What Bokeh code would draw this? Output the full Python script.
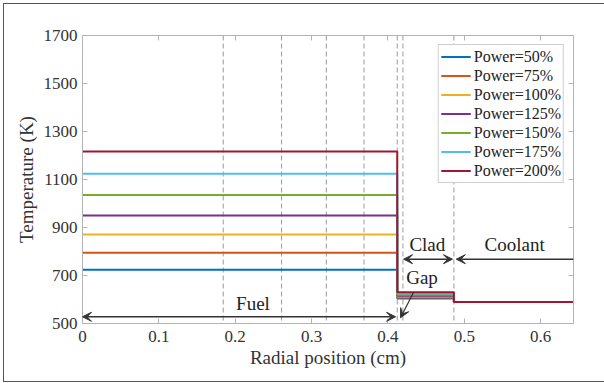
from bokeh.plotting import figure
from bokeh.models import (Range1d, LinearAxis, FixedTicker, Span, Arrow, VeeHead, Label,
                          InlineStyleSheet)
from bokeh.embed import file_html
from bokeh.resources import INLINE

# ---- data ----
labels = ["Power=50%", "Power=75%", "Power=100%", "Power=125%",
          "Power=150%", "Power=175%", "Power=200%"]
colors = ["#0072BD", "#D95319", "#EDB120", "#7E2F8E", "#77AC30", "#4DBEEE", "#A2142F"]
fuel_T = [724, 795, 871, 950, 1035, 1124, 1217]
clad_T = [604, 608, 612, 616, 620, 625, 630]
cool_T = [590, 590, 590, 590, 590, 590, 590]
r_fuel = 0.4122
r_clad = 0.4864
r_end = 0.643
ring_bounds = [0.1843, 0.2607, 0.3193, 0.3686, 0.4122, 0.4196, 0.4864]
x_ticks = [0, 0.1, 0.2, 0.3, 0.4, 0.5, 0.6]
y_ticks = [500, 700, 900, 1100, 1300, 1500, 1700]

# annotation texts and arrows
region_text = ["Fuel", "Clad", "Coolant", "Gap"]
region_x = [0.2233, 0.4516, 0.566, 0.4446]
region_y = [582, 830, 830, 692]
fuel_arrow = (0.0, 0.410, 528)
clad_arrow = (0.4205, 0.4845, 768)
cool_arrow = (0.643, 0.4895, 768)
gap_arrow = (0.4334, 629, 0.4165, 524)

FONT = "Liberation Serif"
AX = "#b3b3b3"
TXT = "#333333"

p = figure(frame_width=491, frame_height=288, min_border_left=82, min_border_right=31,
           min_border_top=35, min_border_bottom=60, output_backend="svg",
           toolbar_location=None, x_range=Range1d(0, r_end), y_range=Range1d(500, 1700))
p.grid.visible = False
p.background_fill_color = "white"
p.border_fill_color = "white"
p.outline_line_color = AX
p.outline_line_width = 1
p.stylesheets = [InlineStyleSheet(css="""
:host { position: relative; }
:host::after { content: ""; position: absolute; top: 3px; left: 2.5px; right: -3px;
  bottom: 1.5px; border: 1.5px solid #555555; pointer-events: none; z-index: 100; }
""")]

for ax in (p.xaxis[0], p.yaxis[0]):
    ax.axis_line_color = AX
    ax.major_tick_line_color = AX
    ax.major_tick_in = 5
    ax.major_tick_out = 0
    ax.minor_tick_line_color = None
    ax.major_label_text_font = FONT
    ax.major_label_text_font_size = "17px"
    ax.major_label_text_color = TXT
    ax.axis_label_text_font = FONT
    ax.axis_label_text_font_size = "19px"
    ax.axis_label_text_font_style = "normal"
    ax.axis_label_text_color = TXT

p.xaxis.ticker = FixedTicker(ticks=x_ticks)
p.yaxis.ticker = FixedTicker(ticks=y_ticks)
p.xaxis.axis_label = "Radial position (cm)"
p.yaxis.axis_label = "Temperature (K)"
p.xaxis.major_label_standoff = 7
p.yaxis.major_label_standoff = 5
p.xaxis.axis_label_standoff = 2
p.yaxis.axis_label_standoff = 4

# mirrored axes (tick marks only, drawn as unlabeled minor ticks)
for side, tk in (("above", x_ticks), ("right", y_ticks)):
    a = LinearAxis(ticker=FixedTicker(ticks=[], minor_ticks=tk),
                   axis_line_color=AX, major_tick_line_color=None,
                   minor_tick_line_color=AX, minor_tick_in=5, minor_tick_out=0)
    p.add_layout(a, side)

# dashed region boundaries
for b in ring_bounds:
    p.add_layout(Span(location=b, dimension="height", line_color="#9a9a9a",
                      line_dash="5 3", line_width=1, level="underlay"))

# temperature profiles
for lab, c, tf, tc, tw in zip(labels, colors, fuel_T, clad_T, cool_T):
    xs = [0, r_fuel, r_fuel, r_clad, r_clad, r_end]
    ys = [tf, tf, tc, tc, tw, tw]
    p.line(xs, ys, line_color=c, line_width=2, legend_label=lab)

lg = p.legend[0]
lg.location = "top_right"
lg.margin = 9
lg.padding = 2
lg.spacing = 0
lg.label_standoff = 3
lg.glyph_width = 30
lg.glyph_height = 19
lg.label_height = 19
lg.label_text_font = FONT
lg.label_text_font_size = "16px"
lg.label_text_color = "#222222"
lg.border_line_color = "#a0a0a0"
lg.border_line_width = 1
lg.background_fill_alpha = 1

# arrows
ARC = "#333333"
def head():
    return VeeHead(size=9, fill_color=ARC, line_color=ARC, line_width=1)

p.add_layout(Arrow(x_start=fuel_arrow[0], x_end=fuel_arrow[1], y_start=fuel_arrow[2],
                   y_end=fuel_arrow[2], start=head(), end=head(), line_color=ARC, line_width=1.5))
p.add_layout(Arrow(x_start=clad_arrow[0], x_end=clad_arrow[1], y_start=clad_arrow[2],
                   y_end=clad_arrow[2], start=head(), end=head(), line_color=ARC, line_width=1.5))
p.add_layout(Arrow(x_start=cool_arrow[0], x_end=cool_arrow[1], y_start=cool_arrow[2],
                   y_end=cool_arrow[2], end=head(), line_color=ARC, line_width=1.5))
p.add_layout(Arrow(x_start=gap_arrow[0], y_start=gap_arrow[1], x_end=gap_arrow[2],
                   y_end=gap_arrow[3], end=head(), line_color=ARC, line_width=1.2))

for t, x, y in zip(region_text, region_x, region_y):
    p.add_layout(Label(x=x, y=y, text=t, text_font=FONT, text_font_size="19px",
                       text_color="#222222", text_align="center", text_baseline="middle"))

open("out.html", "w").write(file_html(p, INLINE))
